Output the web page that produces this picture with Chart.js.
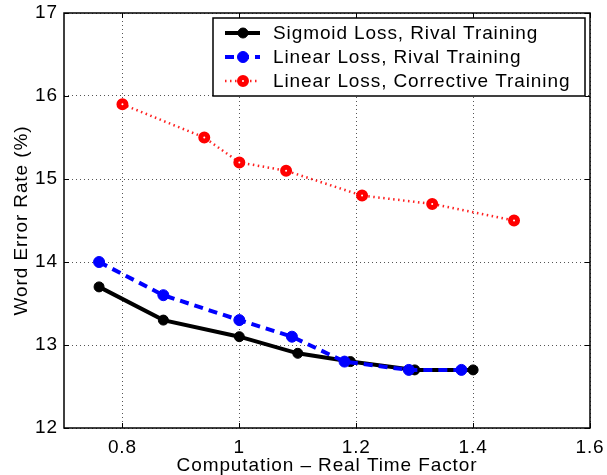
<!DOCTYPE html>
<html>
<head>
<meta charset="utf-8">
<script src="https://cdn.jsdelivr.net/npm/chart.js@4/dist/chart.umd.min.js"></script>
<style>
	html,body{margin:0;padding:0;background:#fff;}
	#wrap{width:607px;height:475px;}
</style>
</head>
<body>
<div id="wrap"><canvas id="wer" width="607" height="475"></canvas></div>
<script>
(function(){
	'use strict';

	// series
	var sigmoidX = [0.76, 0.87, 1.0, 1.1, 1.19, 1.3, 1.4];
	var sigmoidY = [13.7, 13.3, 13.1, 12.9, 12.8, 12.7, 12.7];

	var linearX = [0.76, 0.87, 1.0, 1.09, 1.18, 1.29, 1.38];
	var linearY = [14.0, 13.6, 13.3, 13.1, 12.8, 12.7, 12.7];

	var correctiveX = [0.8, 0.94, 1.0, 1.08, 1.21, 1.33, 1.47];
	var correctiveY = [15.9, 15.5, 15.2, 15.1, 14.8, 14.7, 14.5];

	var seriesNames = ['Sigmoid Loss, Rival Training', 'Linear Loss, Rival Training', 'Linear Loss, Corrective Training'];

	var xTicks = [0.8, 1, 1.2, 1.4, 1.6];
	var yTicks = [12, 13, 14, 15, 16, 17];

	var FONT = 'Liberation Sans, Helvetica, Arial, sans-serif';
	var SPACING = '0.9px';

	function pts(xs, ys){
		return xs.map(function(x, i){ return {x: x, y: ys[i]}; });
	}

	function noPad(s){
		s.paddingTop = 0; s.paddingBottom = 0; s.paddingLeft = 0; s.paddingRight = 0;
	}

	// the figure's text is a little wider than Liberation Sans
	var spacingPlugin = {
		id: 'spacing',
		beforeUpdate: function(chart){ chart.ctx.letterSpacing = SPACING; },
		beforeDraw: function(chart){ chart.ctx.letterSpacing = SPACING; }
	};

	// matlab style: box round the axes, inward ticks on every side
	var boxPlugin = {
		id: 'box',
		afterDatasetsDraw: function(chart){
			var ctx = chart.ctx, a = chart.chartArea;
			var xs = chart.scales.x, ys = chart.scales.y;
			ctx.save();
			ctx.strokeStyle = '#000';
			ctx.lineWidth = 1;
			ctx.setLineDash([]);
			ctx.beginPath();
			xTicks.forEach(function(v){
				var p = Math.round(xs.getPixelForValue(v)) + 0.5;
				ctx.moveTo(p, a.bottom); ctx.lineTo(p, a.bottom - 5);
				ctx.moveTo(p, a.top); ctx.lineTo(p, a.top + 5);
			});
			yTicks.forEach(function(v){
				var p = Math.round(ys.getPixelForValue(v)) + 0.5;
				ctx.moveTo(a.left, p); ctx.lineTo(a.left + 5, p);
				ctx.moveTo(a.right, p); ctx.lineTo(a.right - 5, p);
			});
			ctx.stroke();
			ctx.lineWidth = 1.5;
			ctx.strokeRect(a.left, a.top, a.right - a.left, a.bottom - a.top);
			ctx.restore();
		}
	};

	// legend box in the top right corner of the axes
	var legendPlugin = {
		id: 'boxLegend',
		afterDraw: function(chart){
			var ctx = chart.ctx, a = chart.chartArea;
			var bw = 372, bh = 78;
			var bx = a.right - 5 - bw, by = a.top + 5;
			ctx.save();
			ctx.fillStyle = '#fff';
			ctx.fillRect(bx, by, bw, bh);
			ctx.strokeStyle = '#000';
			ctx.lineWidth = 1.5;
			ctx.setLineDash([]);
			ctx.strokeRect(bx, by, bw, bh);
			chart.data.datasets.forEach(function(ds, i){
				var cy = by + 15 + i * 24;
				ctx.strokeStyle = ds.borderColor;
				ctx.lineWidth = ds.borderWidth;
				ctx.setLineDash(ds.borderDash || []);
				ctx.beginPath();
				ctx.moveTo(bx + 12, cy);
				ctx.lineTo(bx + 47, cy);
				ctx.stroke();
				ctx.setLineDash([]);
				ctx.beginPath();
				ctx.arc(bx + 30, cy, ds.pointRadius, 0, Math.PI * 2);
				ctx.fillStyle = ds.pointBackgroundColor;
				ctx.fill();
				ctx.lineWidth = ds.pointBorderWidth;
				ctx.strokeStyle = ds.pointBorderColor;
				ctx.stroke();
				ctx.fillStyle = '#000';
				ctx.font = '19px ' + FONT;
				ctx.letterSpacing = SPACING;
				ctx.textBaseline = 'middle';
				ctx.fillText(seriesNames[i], bx + 60, cy + 1);
			});
			ctx.restore();
		}
	};

	var wer = document.getElementById('wer');

	new Chart(wer, {
		type: 'scatter',
		data: {
			datasets: [
				{
					label: seriesNames[0],
					data: pts(sigmoidX, sigmoidY),
					showLine: true,
					borderColor: '#000',
					borderWidth: 4,
					pointRadius: 5,
					pointBackgroundColor: '#000',
					pointBorderColor: '#000',
					pointBorderWidth: 1,
					order: 3
				},
				{
					label: seriesNames[1],
					data: pts(linearX, linearY),
					showLine: true,
					borderColor: '#0000ff',
					borderWidth: 4,
					borderDash: [9, 6],
					pointRadius: 5.5,
					pointBackgroundColor: '#0000ff',
					pointBorderColor: '#0000ff',
					pointBorderWidth: 1,
					order: 2
				},
				{
					label: seriesNames[2],
					data: pts(correctiveX, correctiveY),
					showLine: true,
					borderColor: '#ff2020',
					borderWidth: 2.5,
					borderDash: [1.5, 3.5],
					pointRadius: 3.5,
					pointBackgroundColor: '#fff',
					pointBorderColor: '#ff0000',
					pointBorderWidth: 5,
					order: 1
				}
			]
		},
		options: {
			responsive: false,
			animation: false,
			layout: {padding: {top: 13, right: 17, left: 0, bottom: 0}},
			plugins: {
				legend: {display: false},
				tooltip: {enabled: false}
			},
			scales: {
				x: {
					type: 'linear',
					min: 0.7,
					max: 1.6,
					afterBuildTicks: function(s){ s.ticks = xTicks.map(function(v){ return {value: v}; }); },
					afterFit: function(s){ s.height = 47; noPad(s); },
					grid: {color: '#555', lineWidth: 1, drawTicks: false},
					border: {display: false, dash: [1, 3]},
					ticks: {color: '#000', font: {family: FONT, size: 19}, padding: 8, maxRotation: 0,
						callback: function(v){ return String(v); }},
					title: {display: true, text: 'Computation – Real Time Factor', color: '#000',
						font: {family: FONT, size: 19}, padding: {top: 0, bottom: -2}}
				},
				y: {
					type: 'linear',
					min: 12,
					max: 17,
					afterBuildTicks: function(s){ s.ticks = yTicks.map(function(v){ return {value: v}; }); },
					afterFit: function(s){ s.width = 64; noPad(s); },
					grid: {color: '#555', lineWidth: 1, drawTicks: false},
					border: {display: false, dash: [1, 3]},
					ticks: {color: '#000', font: {family: FONT, size: 19}, padding: 6},
					title: {display: true, text: 'Word Error Rate (%)', color: '#000',
						font: {family: FONT, size: 19}, padding: {top: 10, bottom: 0}}
				}
			}
		},
		plugins: [spacingPlugin, boxPlugin, legendPlugin]
	});
})();
</script>
</body>
</html>
